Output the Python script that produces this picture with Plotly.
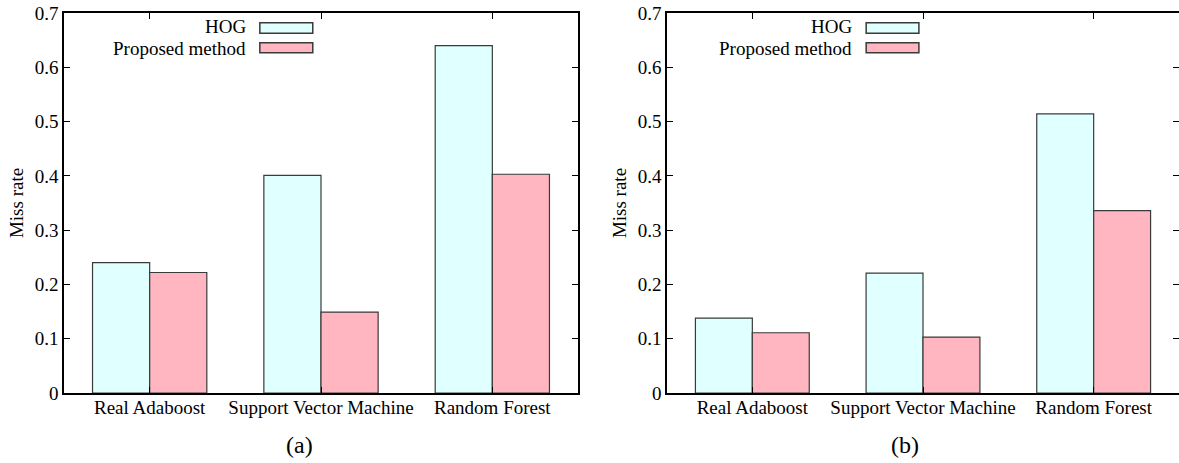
import plotly.graph_objects as go

categories = ["Real Adaboost", "Support Vector Machine", "Random Forest"]
series_names = ["HOG", "Proposed method"]
hog_a = [0.240, 0.401, 0.640]
prop_a = [0.222, 0.149, 0.403]
hog_b = [0.138, 0.221, 0.514]
prop_b = [0.111, 0.103, 0.336]
y_ticks = [0, 0.1, 0.2, 0.3, 0.4, 0.5, 0.6, 0.7]
y_tick_labels = ["0", "0.1", "0.2", "0.3", "0.4", "0.5", "0.6", "0.7"]
captions = ["(a)", "(b)"]
y_title = "Miss rate"

colors = ["#e0ffff", "#ffb6c1"]
edge = "#3a3a3a"
FONT = "'Liberation Serif', 'Times New Roman', serif"
W, H = 1179, 463

fig = go.Figure()
panels = [(hog_a, prop_a), (hog_b, prop_b)]
xdoms = [[64 / W, 578 / W], [667 / W, 1.0]]
ydom = [(H - 393) / H, (H - 13) / H]

for i, (hog, prop) in enumerate(panels):
    xa = "x" if i == 0 else "x2"
    ya = "y" if i == 0 else "y2"
    for name, vals, col in zip(series_names, [hog, prop], colors):
        fig.add_trace(go.Bar(
            x=categories, y=vals, name=name, xaxis=xa, yaxis=ya,
            marker=dict(color=col, line=dict(color=edge, width=1.2)),
            showlegend=False, offsetgroup=name, hoverinfo="skip",
        ))

axis_common = dict(
    showline=True, linecolor="black", linewidth=1.5, mirror="ticks",
    ticks="inside", ticklen=6, tickcolor="black", tickwidth=1,
    showgrid=False, zeroline=False, automargin=False,
    tickfont=dict(family=FONT, size=19, color="black"),
)
for i in range(2):
    sx = "" if i == 0 else "2"
    fig.update_layout(**{
        f"xaxis{sx}": dict(axis_common, domain=xdoms[i], anchor=f"y{sx}",
                           range=[-0.5, 2.5], type="category",
                           ticklabelstandoff=-4),
        f"yaxis{sx}": dict(axis_common, domain=ydom, anchor=f"x{sx}",
                           range=[0, 0.7], tickvals=y_ticks, ticktext=y_tick_labels,
                           title=dict(text=y_title, standoff=6,
                                      font=dict(family=FONT, size=19, color="black"))),
    })

# gnuplot-style legend (text left of swatch), in axis-domain coordinates
legend_pos = [
    dict(tx=0.356, sx0=0.381, sx1=0.484),
    dict(tx=0.364, sx0=0.389, sx1=0.492),
]
rows = [(0.9745, 0.9466, 0.9632), (0.9218, 0.8955, 0.9066)]
for i in range(2):
    sx = "" if i == 0 else "2"
    lp = legend_pos[i]
    for name, col, (y0, y1, yc) in zip(series_names, colors, rows):
        fig.add_shape(type="rect", xref=f"x{sx} domain", yref=f"y{sx} domain",
                      x0=lp["sx0"], x1=lp["sx1"], y0=y1, y1=y0,
                      fillcolor=col, line=dict(color=edge, width=1.5))
        fig.add_annotation(xref=f"x{sx} domain", yref=f"y{sx} domain",
                           x=lp["tx"], y=yc, text=name, showarrow=False,
                           xanchor="right", yanchor="middle", borderpad=0,
                           font=dict(family=FONT, size=19, color="black"))

cap_x = [299 / W, 905 / W]
for i, c in enumerate(captions):
    fig.add_annotation(xref="paper", yref="paper", x=cap_x[i], y=(H - 445) / H,
                       text=c, showarrow=False, xanchor="center", yanchor="middle",
                       font=dict(family=FONT, size=24, color="black"))

fig.update_layout(
    width=W, height=H, margin=dict(l=0, r=0, t=0, b=0),
    paper_bgcolor="white", plot_bgcolor="white",
    barmode="group", bargap=0.333, bargroupgap=0,
    showlegend=False, hovermode=False,
)

fig.write_html(
    "out.html",
    config={"displayModeBar": False},
    post_script="document.body.style.margin='0';document.body.style.overflow='hidden';",
)
